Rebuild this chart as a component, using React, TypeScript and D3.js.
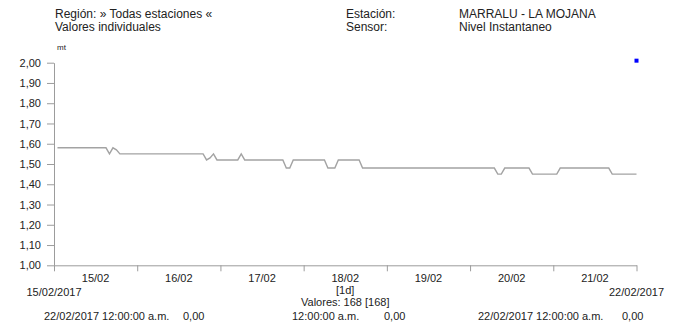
import React, { useEffect, useRef } from 'react';
import * as d3 from 'd3';

// hourly readings (mt), 15/02/2017 01:00 .. 22/02/2017 00:00, one array per day
const day15 = [1.58, 1.58, 1.58, 1.58, 1.58, 1.58, 1.58, 1.58, 1.58, 1.58, 1.58, 1.58, 1.58, 1.58, 1.58, 1.55, 1.58, 1.57, 1.55, 1.55, 1.55, 1.55, 1.55, 1.55];
const day16 = [1.55, 1.55, 1.55, 1.55, 1.55, 1.55, 1.55, 1.55, 1.55, 1.55, 1.55, 1.55, 1.55, 1.55, 1.55, 1.55, 1.55, 1.55, 1.55, 1.52, 1.53, 1.55, 1.52, 1.52];
const day17 = [1.52, 1.52, 1.52, 1.52, 1.52, 1.55, 1.52, 1.52, 1.52, 1.52, 1.52, 1.52, 1.52, 1.52, 1.52, 1.52, 1.52, 1.52, 1.48, 1.48, 1.52, 1.52, 1.52, 1.52];
const day18 = [1.52, 1.52, 1.52, 1.52, 1.52, 1.52, 1.48, 1.48, 1.48, 1.52, 1.52, 1.52, 1.52, 1.52, 1.52, 1.52, 1.48, 1.48, 1.48, 1.48, 1.48, 1.48, 1.48, 1.48];
const day19 = [1.48, 1.48, 1.48, 1.48, 1.48, 1.48, 1.48, 1.48, 1.48, 1.48, 1.48, 1.48, 1.48, 1.48, 1.48, 1.48, 1.48, 1.48, 1.48, 1.48, 1.48, 1.48, 1.48, 1.48];
const day20 = [1.48, 1.48, 1.48, 1.48, 1.48, 1.48, 1.48, 1.45, 1.45, 1.48, 1.48, 1.48, 1.48, 1.48, 1.48, 1.48, 1.48, 1.45, 1.45, 1.45, 1.45, 1.45, 1.45, 1.45];
const day21 = [1.45, 1.48, 1.48, 1.48, 1.48, 1.48, 1.48, 1.48, 1.48, 1.48, 1.48, 1.48, 1.48, 1.48, 1.48, 1.48, 1.45, 1.45, 1.45, 1.45, 1.45, 1.45, 1.45, 1.45];
const days = [day15, day16, day17, day18, day19, day20, day21];

const yTicks = [1.0, 1.1, 1.2, 1.3, 1.4, 1.5, 1.6, 1.7, 1.8, 1.9, 2.0];
const dayTicks = ['15/02', '16/02', '17/02', '18/02', '19/02', '20/02', '21/02'];

const header = [
  { text: 'Región: » Todas estaciones «', x: 55, y: 18 },
  { text: 'Valores individuales', x: 55, y: 31 },
  { text: 'Estación:', x: 346, y: 18 },
  { text: 'Sensor:', x: 346, y: 31 },
  { text: 'MARRALU - LA MOJANA', x: 459, y: 18 },
  { text: 'Nivel Instantaneo', x: 459, y: 31 },
];

const footer = [
  { text: '22/02/2017 12:00:00 a.m.', x: 44 },
  { text: '0,00', x: 183 },
  { text: '12:00:00 a.m.', x: 292 },
  { text: '0,00', x: 384 },
  { text: '22/02/2017 12:00:00 a.m.', x: 478 },
  { text: '0,00', x: 622 },
];

const FONT = '"Liberation Sans", Arial, sans-serif';

export default function App() {
  const svgRef = useRef<SVGSVGElement>(null);

  useEffect(() => {
    if (!svgRef.current) return;
    const svg = d3.select(svgRef.current);
    svg.selectAll('*').remove();

    const start = new Date(2017, 1, 15, 0, 0);
    const end = new Date(2017, 1, 22, 0, 0);

    const x = d3.scaleTime().domain([start, end]).range([54, 636.5]);
    const y = d3.scaleLinear().domain([1, 2]).range([265.3, 62.7]);

    const data: { t: Date; v: number }[] = [];
    days.forEach((vals, d) => {
      vals.forEach((v, h) => {
        data.push({ t: d3.timeHour.offset(start, d * 24 + h + 1), v });
      });
    });

    const axisColor = '#9c9c9c';
    const textColor = '#222';
    const comma = (v: number) => d3.format('.2f')(v).replace('.', ',');

    // y axis
    const gy = svg.append('g').attr('transform', 'translate(54,0)')
      .call(d3.axisLeft(y).tickValues(yTicks).tickSize(7).tickSizeOuter(0).tickPadding(6).tickFormat(d => comma(+d)));
    gy.select('.domain').attr('stroke', axisColor);
    gy.selectAll('.tick line').attr('stroke', axisColor);
    gy.selectAll('.tick text').attr('fill', textColor).style('font-size', '11px').style('font-family', FONT);

    // x axis, ticks on day boundaries
    const gx = svg.append('g').attr('transform', `translate(0,${y(1)})`)
      .call(d3.axisBottom(x).tickValues(d3.timeDay.range(start, d3.timeDay.offset(end, 1))).tickSize(6).tickSizeOuter(0).tickFormat(() => ''));
    gx.select('.domain').attr('stroke', axisColor);
    gx.selectAll('.tick line').attr('stroke', axisColor);

    const labels = svg.append('g').attr('fill', textColor);

    // day labels at midday
    labels.append('g').selectAll('text')
      .data(dayTicks)
      .enter()
      .append('text')
      .attr('x', (_, i) => x(d3.timeHour.offset(start, i * 24 + 12)))
      .attr('y', 282)
      .attr('text-anchor', 'middle')
      .text(d => d);

    labels.append('text').attr('x', x(start)).attr('y', 296).attr('text-anchor', 'middle').text('15/02/2017');
    labels.append('text').attr('x', x(end)).attr('y', 296).attr('text-anchor', 'middle').text('22/02/2017');
    const mid = (x(start) + x(end)) / 2;
    labels.append('text').attr('x', mid).attr('y', 294).attr('text-anchor', 'middle').text('[1d]');
    labels.append('text').attr('x', mid).attr('y', 306).attr('text-anchor', 'middle').text(`Valores: ${data.length} [${data.length}]`);

    labels.append('g').selectAll('text')
      .data(footer)
      .enter()
      .append('text')
      .attr('x', d => d.x)
      .attr('y', 320)
      .text(d => d.text);

    labels.append('g').selectAll('text')
      .data(header)
      .enter()
      .append('text')
      .attr('x', d => d.x)
      .attr('y', d => d.y)
      .style('font-size', '12px')
      .text(d => d.text);

    labels.append('text').attr('x', 57).attr('y', 50).style('font-size', '8px').text('mt');

    // series
    const line = d3.line<{ t: Date; v: number }>()
      .x(d => x(d.t))
      .y(d => y(d.v));

    svg.append('path')
      .datum(data)
      .attr('d', line)
      .attr('fill', 'none')
      .attr('stroke', '#a3a3a3')
      .attr('stroke-width', 1.4);

    // legend marker
    svg.append('rect')
      .attr('x', x(end) - 2)
      .attr('y', y(2.01) - 2)
      .attr('width', 4)
      .attr('height', 4)
      .attr('fill', '#0000ff');
  }, []);

  return (
    <svg
      ref={svgRef}
      width={674}
      height={329}
      style={{ position: 'absolute', left: 0, top: 0, background: '#fff', fontFamily: FONT, fontSize: 11 }}
    />
  );
}
